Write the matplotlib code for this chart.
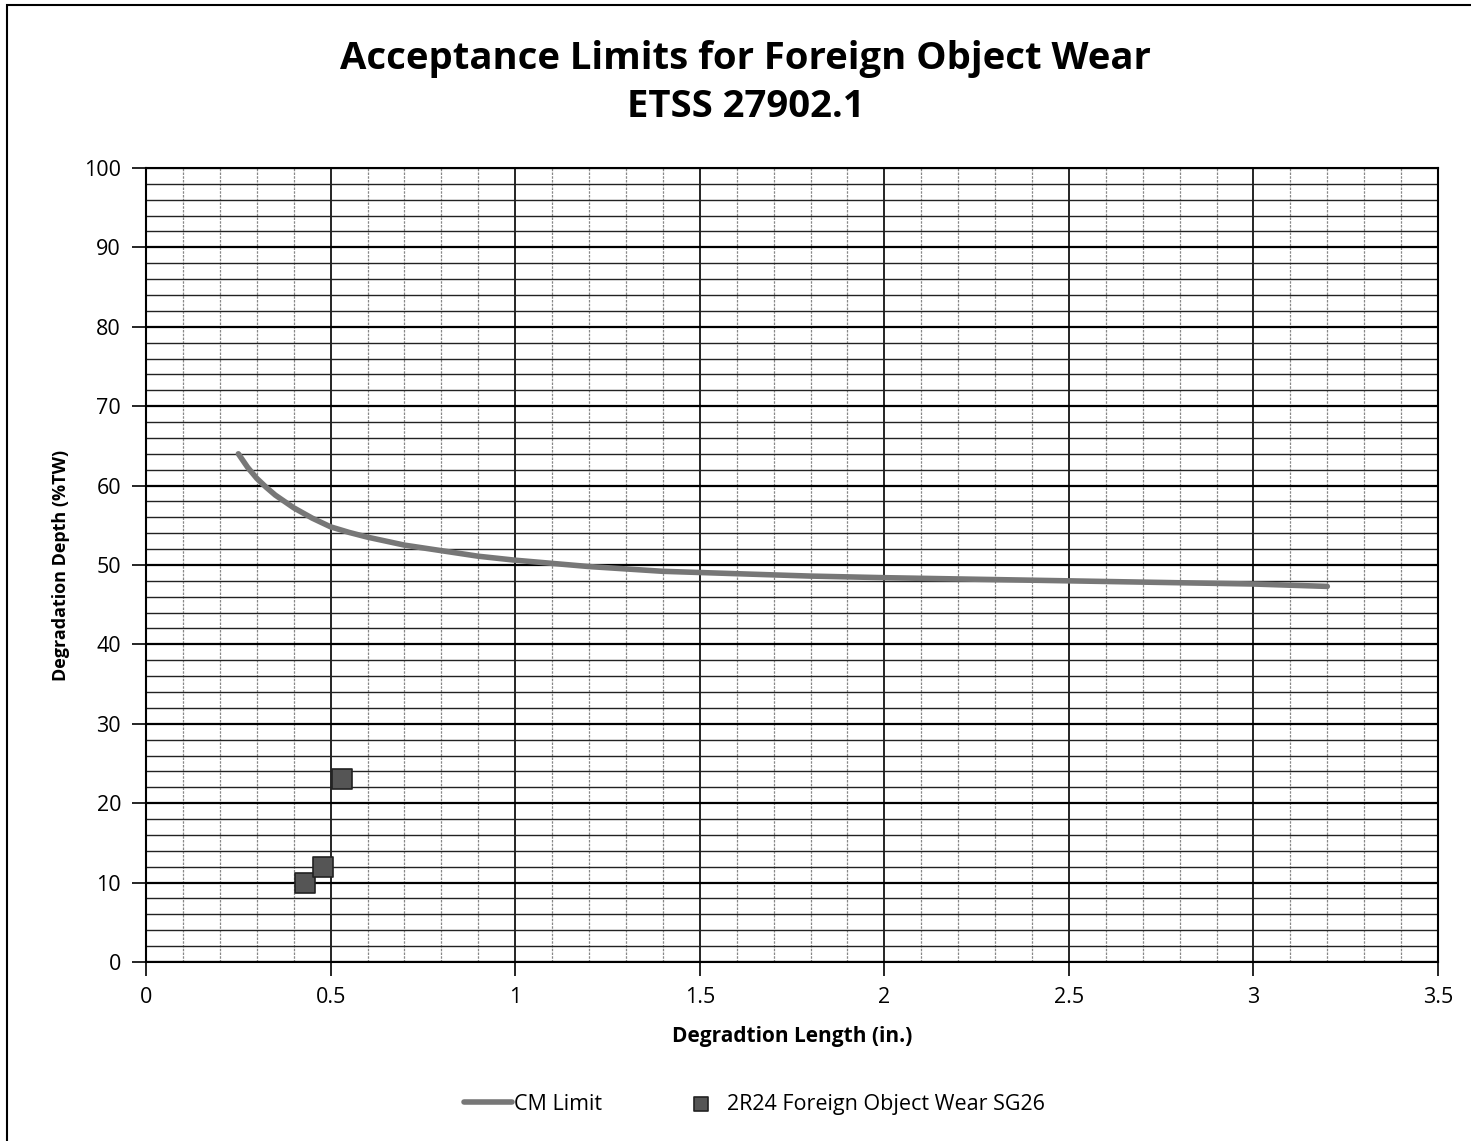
import matplotlib.pyplot as plt
from matplotlib.patches import Rectangle
from matplotlib.ticker import MultipleLocator, FuncFormatter

plt.rcParams['font.family'] = ['Open Sans', 'DejaVu Sans']

# CM limit curve
cm_length = [0.25, 0.275, 0.30, 0.325, 0.35, 0.375, 0.40, 0.45, 0.50, 0.55, 0.60,
             0.70, 0.80, 0.90, 1.00, 1.10, 1.20, 1.40, 1.60, 1.80, 2.00, 2.50,
             3.00, 3.20]
cm_depth = [64.0, 62.3, 60.9, 59.8, 58.8, 58.0, 57.2, 55.9, 54.8, 54.1, 53.5,
            52.5, 51.8, 51.1, 50.6, 50.2, 49.8, 49.2, 48.9, 48.6, 48.4, 48.0,
            47.6, 47.3]

# Foreign object wear indications
wear_length = [0.43, 0.48, 0.53]
wear_depth = [10, 12, 23]

fig = plt.figure(figsize=(14.71, 11.41), dpi=100)
ax = fig.add_axes([0.0993, 0.1569, 0.8783, 0.6959])

# figure border (left and top visible)
fig.patches.append(Rectangle((0.005, -0.02), 1.2, 0.9956 + 0.02, transform=fig.transFigure,
                             fill=False, edgecolor='black', linewidth=1.5))

ax.set_xlim(0, 3.5)
ax.set_ylim(0, 100)
ax.xaxis.set_major_locator(MultipleLocator(0.5))
ax.xaxis.set_minor_locator(MultipleLocator(0.1))
ax.yaxis.set_major_locator(MultipleLocator(10))
ax.yaxis.set_minor_locator(MultipleLocator(2))
ax.xaxis.set_major_formatter(FuncFormatter(lambda v, p: f"{v:g}"))

ax.grid(which='major', axis='x', color='black', linewidth=1.2)
ax.grid(which='minor', axis='x', color='#888888', linewidth=0.9, linestyle=(0, (2, 1)))
ax.grid(which='major', axis='y', color='black', linewidth=1.6)
ax.grid(which='minor', axis='y', color='#222222', linewidth=1.0)
ax.set_axisbelow(True)

ax.tick_params(which='major', direction='out', length=10, width=1.2, labelsize=15.5, pad=8)
ax.tick_params(which='minor', length=0)
for s in ax.spines.values():
    s.set_linewidth(1.5)

ax.plot(cm_length, cm_depth, color='#777777', linewidth=4, label='CM Limit',
        solid_capstyle='round', solid_joinstyle='round')
ax.scatter(wear_length, wear_depth, marker='s', s=190, color='#555555',
           edgecolors='#222222', linewidths=1.2, zorder=3,
           label='2R24 Foreign Object Wear SG26')

ax.set_xlabel('Degradtion Length (in.)', fontsize=15, fontweight='bold', labelpad=13)
ax.set_ylabel('Degradation Depth (%TW)', fontsize=13, fontweight='bold', labelpad=10)

fig.text(0.507, 0.927, 'Acceptance Limits for Foreign Object Wear\nETSS 27902.1',
         ha='center', va='center', fontsize=27.5, fontweight='bold', linespacing=1.35)

fig.legend(loc='center', bbox_to_anchor=(0.513, 0.032), ncol=2, frameon=False,
           fontsize=15.5, handlelength=2.2, handletextpad=0.1, columnspacing=3.5,
           markerscale=0.75)

fig.savefig('out.png', dpi=100)
